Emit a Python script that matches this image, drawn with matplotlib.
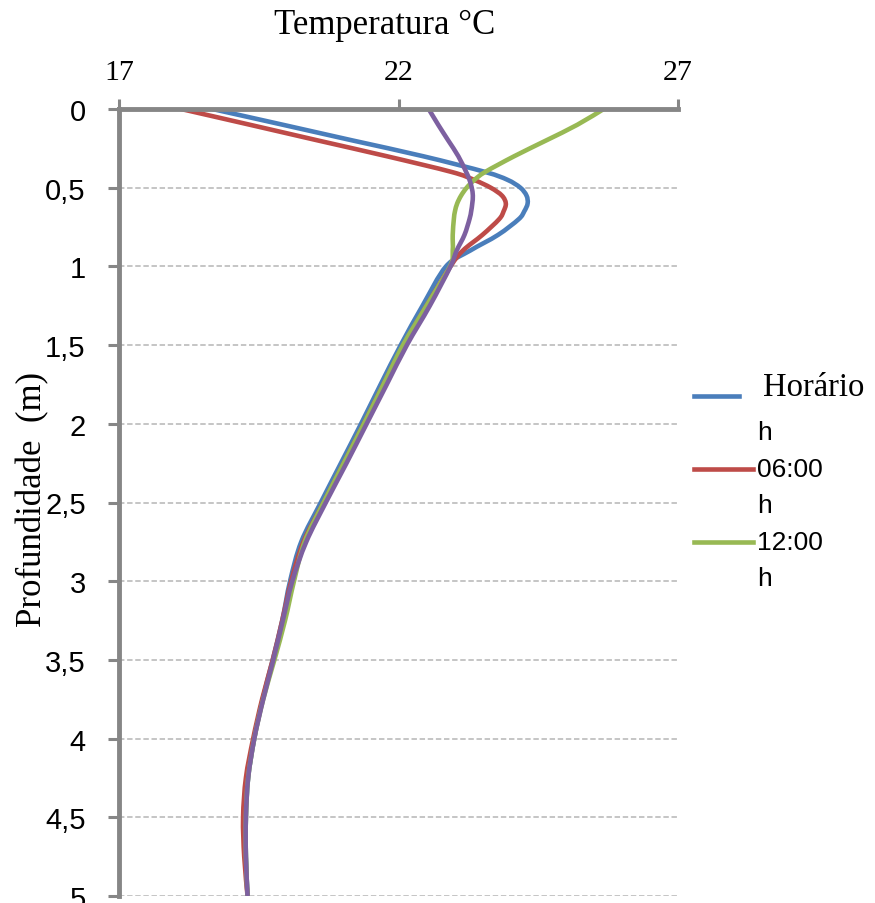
import numpy as np
import matplotlib
matplotlib.use('Agg')
import matplotlib.pyplot as plt
from matplotlib.lines import Line2D
from matplotlib.path import Path
from matplotlib.patches import PathPatch

# Depth grid (m) shared by all four profiles
depth = [0, 0.1, 0.2, 0.3, 0.4, 0.45, 0.5, 0.55, 0.6, 0.65, 0.7, 0.8, 0.9, 1.0,
         1.25, 1.5, 1.75, 2.0, 2.25, 2.5, 2.75, 3.0, 3.25, 3.5, 3.75, 4.0,
         4.25, 4.5, 4.75, 5.0]

# Temperature (degC)
t_blue = [18.67, 19.93, 21.18, 22.44, 23.55, 23.95, 24.18, 24.29, 24.31, 24.25,
          24.15, 23.78, 23.28, 22.85, 22.43, 22.04, 21.68, 21.33, 20.97, 20.61,
          20.26, 20.06, 19.92, 19.75, 19.57, 19.42, 19.31, 19.27, 19.27, 19.30]
t_red = [18.11, 19.34, 20.56, 21.79, 22.95, 23.35, 23.65, 23.85, 23.92, 23.88,
         23.80, 23.50, 23.15, 22.93, 22.50, 22.09, 21.73, 21.38, 21.02, 20.66,
         20.30, 20.08, 19.92, 19.75, 19.56, 19.40, 19.27, 19.22, 19.24, 19.30]
t_green = [25.67, 25.20, 24.64, 24.07, 23.55, 23.36, 23.22, 23.12, 23.05, 23.01,
           22.99, 22.97, 22.97, 22.92, 22.50, 22.08, 21.73, 21.38, 21.02, 20.66,
           20.32, 20.13, 19.97, 19.78, 19.58, 19.42, 19.31, 19.27, 19.27, 19.30]
t_purple = [22.54, 22.71, 22.89, 23.07, 23.21, 23.27, 23.31, 23.33, 23.32, 23.30,
            23.27, 23.18, 23.04, 22.93, 22.56, 22.15, 21.79, 21.43, 21.07, 20.70,
            20.35, 20.10, 19.93, 19.76, 19.58, 19.42, 19.31, 19.27, 19.27, 19.30]

legend_labels = ['Horário', '06:00', '12:00']
x_ticks = [17, 22, 27]
y_ticks = [0, 0.5, 1, 1.5, 2, 2.5, 3, 3.5, 4, 4.5, 5]

c_blue = '#4a7ebb'
c_red = '#be4b48'
c_green = '#98b954'
c_purple = '#7d60a0'
c_axis = '#868686'

serif = 'Liberation Serif'
sans = 'Liberation Sans'


def smooth_path(x, y):
    # excel-like "smoothed line": cubic bezier through every point
    p = np.column_stack([x, y]).astype(float)
    n = len(p)
    verts = [p[0]]
    codes = [Path.MOVETO]
    for i in range(n - 1):
        p0 = p[i - 1] if i > 0 else p[i]
        p3 = p[i + 2] if i + 2 < n else p[i + 1]
        c1 = p[i] + (p[i + 1] - p0) / 6.
        c2 = p[i + 1] - (p3 - p[i]) / 6.
        verts += [c1, c2, p[i + 1]]
        codes += [Path.CURVE4] * 3
    return Path(verts, codes)


W, H = 875, 904
fig = plt.figure(figsize=(W/100., H/100.), dpi=100)
ax = fig.add_axes([119./W, 1-897./H, (678-119.)/W, (897-110.)/H])

for t, c in [(t_blue, c_blue), (t_red, c_red), (t_green, c_green), (t_purple, c_purple)]:
    ax.add_patch(PathPatch(smooth_path(t, depth), facecolor='none', edgecolor=c,
                           linewidth=3.3, joinstyle='round', capstyle='butt', zorder=3))

ax.set_xlim(17, 27)
ax.set_ylim(5, 0)
ax.xaxis.tick_top()
ax.set_xticks(x_ticks)
ax.set_xticklabels([str(v) for v in x_ticks], fontfamily=serif, fontsize=21.5)
ax.set_yticks(y_ticks)
ax.set_yticklabels([('%g' % v).replace('.', ',') for v in y_ticks],
                   fontfamily=sans, fontsize=21)

ax.yaxis.grid(True, linestyle=(0, (3, 1.5)), color='#c0c0c0', linewidth=1.3)
ax.xaxis.grid(False)
ax.set_axisbelow(True)

for s in ['right', 'bottom']:
    ax.spines[s].set_visible(False)
for s in ['left', 'top']:
    ax.spines[s].set_color(c_axis)
    ax.spines[s].set_linewidth(3.5)
    ax.spines[s].set_zorder(4)
ax.tick_params(axis='x', direction='out', length=7, width=2.2, color=c_axis, pad=10)
ax.tick_params(axis='y', direction='out', length=8, width=2.2, color=c_axis, pad=16)

# axis titles
fig.text(385./W, 1-25./H, 'Temperatura °C', fontfamily=serif, fontsize=25,
         ha='center', va='center')
fig.text(33./W, 1-500./H, 'Profundidade  (m)', fontfamily=serif, fontsize=25,
         rotation=90, ha='center', va='center')

# legend (wrapped labels as in the original)
leg_colors = [c_blue, c_red, c_green]
leg_y = [397, 470, 543]
leg_x1 = [739, 753, 753]
for lab, c, y, x1 in zip(legend_labels, leg_colors, leg_y, leg_x1):
    fig.add_artist(Line2D([694./W, x1/float(W)], [1-y/float(H), 1-y/float(H)],
                          transform=fig.transFigure, color=c, linewidth=3.3))
    if lab == 'Horário':
        fig.text(763./W, 1-(y-9)/float(H), lab, fontfamily=serif, fontsize=23.5,
                 ha='left', va='center')
    else:
        fig.text(757./W, 1-y/float(H), lab, fontfamily=sans, fontsize=19,
                 ha='left', va='center')
    fig.text(757./W, 1-(y+36)/float(H), 'h', fontfamily=sans, fontsize=19,
             ha='left', va='center')

plt.savefig('out.png', dpi=100)
